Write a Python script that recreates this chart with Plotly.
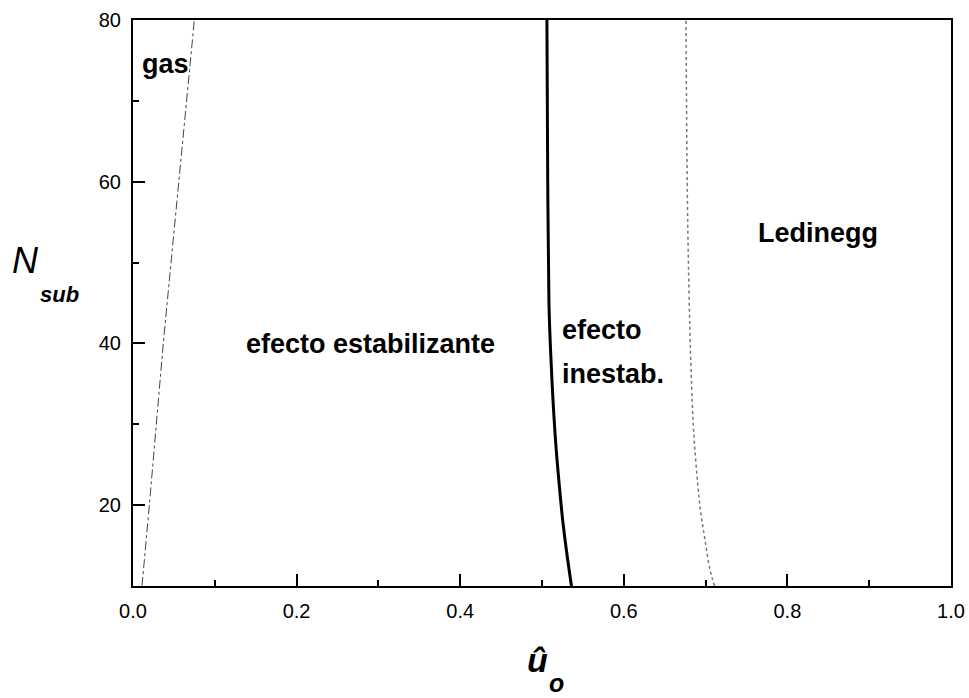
import plotly.graph_objects as go

# Data
gas_x = [0.011, 0.020, 0.037, 0.056, 0.075]
gas_y = [10, 20, 40, 60, 80]

solid_x = [0.536, 0.530, 0.525, 0.521, 0.5175, 0.5135, 0.5105, 0.5085, 0.507, 0.506]
solid_y = [10, 14.3, 18.4, 22.6, 26.7, 32.9, 39.1, 45, 60, 80]

led_x = [0.711, 0.708, 0.704, 0.699, 0.695, 0.692, 0.687, 0.6845, 0.6815, 0.679, 0.6775, 0.676]
led_y = [10, 11, 12.7, 15.9, 18.4, 20.9, 26.7, 30.8, 39.1, 50, 60, 80]

x_ticks = [0.0, 0.2, 0.4, 0.6, 0.8, 1.0]
x_tick_labels = ["0.0", "0.2", "0.4", "0.6", "0.8", "1.0"]
y_ticks = [20, 40, 60, 80]
y_tick_labels = ["20", "40", "60", "80"]

fig = go.Figure()
fig.add_trace(go.Scatter(x=gas_x, y=gas_y, mode="lines",
                         line=dict(color="#444444", width=1, dash="dashdot")))
fig.add_trace(go.Scatter(x=solid_x, y=solid_y, mode="lines", line_shape="spline",
                         line=dict(color="black", width=3)))
fig.add_trace(go.Scatter(x=led_x, y=led_y, mode="lines", line_shape="spline",
                         line=dict(color="#777777", width=1.5, dash="dot")))

tick_font = dict(family="Liberation Sans, Arial", size=20, color="black")
lab_font = dict(family="Liberation Sans, Arial", size=27, color="black")

fig.update_xaxes(range=[0, 1], showgrid=False, zeroline=False, automargin=False,
                 showline=True, linecolor="black", linewidth=2, mirror=True,
                 ticks="inside", ticklen=12, tickwidth=2, tickcolor="black",
                 tickvals=x_ticks, ticktext=x_tick_labels, tickfont=tick_font,
                 minor=dict(ticks="inside", ticklen=6, tickwidth=2, tickcolor="black",
                            dtick=0.1, tick0=0, showgrid=False),
                 ticklabelstandoff=6)
fig.update_yaxes(range=[10, 80], showgrid=False, zeroline=False, automargin=False,
                 showline=True, linecolor="black", linewidth=2, mirror=True,
                 ticks="inside", ticklen=12, tickwidth=2, tickcolor="black",
                 tickvals=y_ticks, ticktext=y_tick_labels, tickfont=tick_font,
                 minor=dict(ticks="inside", ticklen=6, tickwidth=2, tickcolor="black",
                            dtick=20, tick0=10, showgrid=False),
                 ticklabelstandoff=6)

ann = [
    dict(x=0.0086, y=74.5, text="<b>gas</b>", xanchor="left", yanchor="middle"),
    dict(x=0.29, y=39.9, text="<b>efecto estabilizante</b>", xanchor="center", yanchor="middle"),
    dict(x=0.522, y=41.6, text="<b>efecto</b>", xanchor="left", yanchor="middle"),
    dict(x=0.522, y=36.2, text="<b>inestab.</b>", xanchor="left", yanchor="middle"),
    dict(x=0.762, y=53.6, text="<b>Ledinegg</b>", xanchor="left", yanchor="middle"),
]
for a in ann:
    fig.add_annotation(xref="x", yref="y", showarrow=False, font=lab_font, **a)

# axis titles
W0, H0 = 133, 20
PW, PH = 818, 566
def px(xp, yp):
    return (xp - W0) / PW, (H0 + PH - yp) / PH

for (xp, yp, txt, size) in [
    (537, 660, "<b><i>û</i></b>", 34),
    (556, 683, "<b><i>o</i></b>", 25),
    (25, 260, "<i>N</i>", 36),
    (59, 294, "<b><i>sub</i></b>", 22),
]:
    ax, ay = px(xp, yp)
    fig.add_annotation(xref="paper", yref="paper", x=ax, y=ay, text=txt,
                       showarrow=False, xanchor="center", yanchor="middle",
                       font=dict(family="Liberation Sans, Arial", size=size, color="black"))

fig.update_layout(width=969, height=698, showlegend=False,
                  plot_bgcolor="white", paper_bgcolor="white",
                  margin=dict(l=133, r=18, t=20, b=112))
fig.write_html("out.html")
